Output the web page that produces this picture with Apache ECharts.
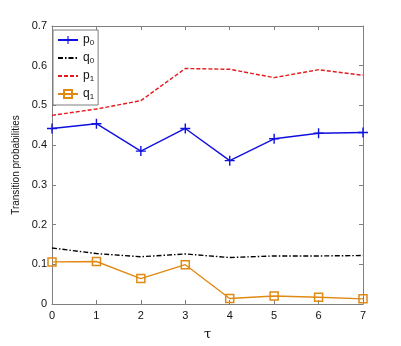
<!DOCTYPE html>
<html>
<head>
<meta charset="utf-8">
<script src="https://cdn.jsdelivr.net/npm/echarts@6/dist/echarts.min.js"></script>
<style>
  html, body { margin: 0; padding: 0; background: #fff; }
  #chart { width: 401px; height: 346px; }
</style>
</head>
<body>
<div id="chart"></div>
<script>
// tau steps
const tau = [0, 1, 2, 3, 4, 5, 6, 7]
// values
const p0 = [0.442, 0.454, 0.385, 0.442, 0.361, 0.416, 0.430, 0.432]
const q0 = [0.141, 0.127, 0.119, 0.126, 0.117, 0.121, 0.121, 0.122]
const p1 = [0.475, 0.491, 0.512, 0.593, 0.591, 0.570, 0.590, 0.576]
const q1 = [0.106, 0.107, 0.064, 0.099, 0.014, 0.020, 0.017, 0.013]
const yTicks = [0, 0.1, 0.2, 0.3, 0.4, 0.5, 0.6, 0.7]

const axisGray = '#7f7f7f'
const plus = 'path://M4.3,0h1.4v4.3h4.3v1.4h-4.3v4.3h-1.4v-4.3h-4.3v-1.4h4.3z'

const pairs = arr => arr.map((v, i) => [tau[i], v])

const chart = echarts.init(document.getElementById('chart'), null, { renderer: 'canvas' })

const baseAxis = {
  axisLine: { show: true, onZero: false, lineStyle: { color: axisGray, width: 1 } },
  axisTick: { show: true, inside: true, length: 4, lineStyle: { color: axisGray } },
  splitLine: { show: false }
}

chart.setOption({
  animation: false,
  backgroundColor: '#fff',
  grid: { left: 52, right: 38, top: 26, bottom: 38, containLabel: false },
  legend: {
    left: 53, top: 30,
    orient: 'vertical',
    itemGap: 5,
    itemWidth: 20, itemHeight: 10,
    itemTextGap: 4,
    padding: [4, 4, 4, 4],
    borderColor: axisGray, borderWidth: 1,
    backgroundColor: '#fff',
    textStyle: {
      fontFamily: 'Liberation Sans', fontSize: 12, color: '#111',
      rich: { sub: { fontSize: 8, verticalAlign: 'bottom', padding: [6, 0, 0, 0] } }
    },
    formatter: name => name[0] + '{sub|' + name[1] + '}',
    data: [
      { name: 'p0' },
      { name: 'q0', itemStyle: { opacity: 0 } },
      { name: 'p1', itemStyle: { opacity: 0 } },
      { name: 'q1' }
    ]
  },
  xAxis: [
    Object.assign({}, baseAxis, {
      type: 'value', min: 0, max: 7, interval: 1,
      name: 'τ', nameLocation: 'middle', nameGap: 24,
      nameTextStyle: { fontFamily: 'DejaVu Serif', fontSize: 13, color: '#111' },
      axisLabel: { fontFamily: 'Liberation Sans', fontSize: 11, color: '#111', margin: 6,
        formatter: v => tau.includes(v) ? String(v) : '' }
    }),
    Object.assign({}, baseAxis, {
      type: 'value', min: 0, max: 7, interval: 1, position: 'top',
      axisLabel: { show: false }
    })
  ],
  yAxis: [
    Object.assign({}, baseAxis, {
      type: 'value', min: 0, max: 0.7, interval: 0.1,
      name: 'Transition probabilities', nameLocation: 'middle', nameGap: 21,
      nameTextStyle: { fontFamily: 'Liberation Sans', fontSize: 10, color: '#111' },
      axisLabel: { fontFamily: 'Liberation Sans', fontSize: 11, color: '#111', margin: 5,
        formatter: v => {
          const t = yTicks.find(k => Math.abs(k - v) < 1e-6)
          return t === undefined ? '' : (t === 0 ? '0' : t.toFixed(1))
        } }
    }),
    Object.assign({}, baseAxis, {
      type: 'value', min: 0, max: 0.7, interval: 0.1, position: 'right',
      axisLabel: { show: false }
    })
  ],
  series: [
    {
      name: 'p0', type: 'line', data: pairs(p0),
      symbol: plus, symbolSize: 10, showAllSymbol: true,
      lineStyle: { color: '#1010e0', width: 1.4 },
      itemStyle: { color: '#1010e0' }
    },
    {
      name: 'q0', type: 'line', data: pairs(q0),
      symbol: 'none',
      lineStyle: { color: '#000', width: 1.4, type: [5, 2, 1.5, 2] },
      itemStyle: { color: '#000' }
    },
    {
      name: 'p1', type: 'line', data: pairs(p1),
      symbol: 'none',
      lineStyle: { color: '#e41a1c', width: 1.4, type: [4, 2] },
      itemStyle: { color: '#e41a1c' }
    },
    {
      name: 'q1', type: 'line', data: pairs(q1),
      symbol: 'rect', symbolSize: 8,
      lineStyle: { color: '#e08a14', width: 1.4 },
      itemStyle: { color: 'rgba(255,255,255,0)', borderColor: '#e08a14', borderWidth: 1.5 }
    }
  ]
})
</script>
</body>
</html>
